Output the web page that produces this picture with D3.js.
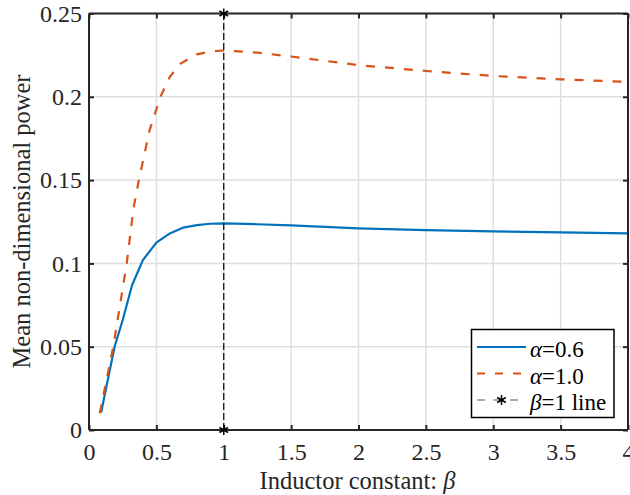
<!DOCTYPE html>
<html><head><meta charset="utf-8">
<script src="https://cdn.jsdelivr.net/npm/d3@7"></script>
<style>body{margin:0;background:#fff;}</style>
</head><body><svg id="c" width="630" height="495" style="font-family:'Liberation Serif','DejaVu Serif',serif"></svg>
<script>
const betaA = [0.09,0.19,0.25,0.32,0.40,0.5,0.6,0.7,0.8,0.9,1.0,1.25,1.5,2,2.5,3,3.5,4];
const powerA06 = [0.0105,0.050,0.066,0.087,0.102,0.1125,0.118,0.1215,0.123,0.1238,0.124,0.1235,0.1228,0.121,0.120,0.1192,0.1186,0.118];
const betaB = [0.08,0.18,0.28,0.33,0.37,0.45,0.53,0.6,0.68,0.8,0.9,1.0,1.25,1.5,2,2.5,3,3.5,4];
const powerA10 = [0.010,0.050,0.100,0.133,0.150,0.180,0.200,0.212,0.220,0.2255,0.2272,0.2278,0.2265,0.2242,0.219,0.2155,0.2125,0.2105,0.2089];
const vlineBeta = [1,1];
const vlinePower = [0,0.25];
const xTicks = [0,0.5,1,1.5,2,2.5,3,3.5,4];
const yTicks = [0,0.05,0.1,0.15,0.2,0.25];
const legendLabels = ["α=0.6","α=1.0","β=1 line"];

const FONT="'Liberation Serif','DejaVu Serif',serif";
const svg = d3.select("#c");
const L=89,R=628,T=13.5,B=430;
const x=d3.scaleLinear().domain([0,4]).range([L,R]);
const y=d3.scaleLinear().domain([0,0.25]).range([B,T]);
const grid="#dfdfdf", ax="#262626";

// grid
svg.append("g").selectAll("line").data(xTicks).join("line")
 .attr("x1",d=>x(d)).attr("x2",d=>x(d)).attr("y1",T).attr("y2",B).attr("stroke",grid).attr("stroke-width",1.5);
svg.append("g").selectAll("line").data(yTicks).join("line")
 .attr("y1",d=>y(d)).attr("y2",d=>y(d)).attr("x1",L).attr("x2",R).attr("stroke",grid).attr("stroke-width",1.5);

const line=d3.line().x(d=>x(d[0])).y(d=>y(d[1])).curve(d3.curveLinear);
const plot = svg.append("g");
plot.append("path").datum(betaA.map((b,i)=>[b,powerA06[i]])).attr("d",line)
 .attr("fill","none").attr("stroke","#0072BD").attr("stroke-width",2.2).attr("stroke-linejoin","round");
plot.append("path").datum(betaB.map((b,i)=>[b,powerA10[i]])).attr("d",line)
 .attr("fill","none").attr("stroke","#D95319").attr("stroke-width",2.2).attr("stroke-dasharray","9,10");
plot.append("path").datum(vlineBeta.map((b,i)=>[b,vlinePower[i]])).attr("d",line)
 .attr("fill","none").attr("stroke","#000").attr("stroke-width",1.2).attr("stroke-dasharray","7,3");

// axes
const xb=d3.axisBottom(x).tickValues(xTicks).tickSize(-5).tickPadding(13).tickFormat(d3.format("~g"));
const xt=d3.axisTop(x).tickValues(xTicks).tickSize(-5).tickFormat("");
const yl=d3.axisLeft(y).tickValues(yTicks).tickSize(-5).tickPadding(7).tickFormat(d3.format("~g"));
const yr=d3.axisRight(y).tickValues(yTicks).tickSize(-5).tickFormat("");
function style(g){g.attr("font-family",FONT).attr("font-size",24);
 g.selectAll("path").attr("stroke",ax).attr("stroke-width",2);
 g.selectAll(".tick line").attr("stroke",ax).attr("stroke-width",2);
 g.selectAll("text").attr("fill",ax);}
svg.append("g").attr("transform",`translate(0,${B})`).call(xb).call(style).call(g=>g.select(".domain").attr("d",`M${L},0H${R}`));
svg.append("g").attr("transform",`translate(0,${T})`).call(xt).call(style).call(g=>g.select(".domain").attr("d",`M${L},0H${R}`));
svg.append("g").attr("transform",`translate(${L},0)`).call(yl).call(style).call(g=>g.select(".domain").attr("d",`M0,${T}V${B}`));
svg.append("g").attr("transform",`translate(${R},0)`).call(yr).call(style).call(g=>g.select(".domain").attr("d",`M0,${T}V${B}`));

// asterisk markers
const star=d3.symbol().type(d3.symbolAsterisk).size(70);
svg.append("g").selectAll("path").data(vlineBeta.map((b,i)=>[b,vlinePower[i]])).join("path")
 .attr("transform",d=>`translate(${x(d[0])},${y(d[1])})`).attr("d",star).attr("fill","none").attr("stroke","#000").attr("stroke-width",1.5);

// axis titles
const xtitle=svg.append("text").attr("x",(L+R)/2-1).attr("y",489).attr("text-anchor","middle")
 .attr("font-family",FONT).attr("font-size",24.5).attr("fill",ax);
xtitle.append("tspan").text("Inductor constant: ");
xtitle.append("tspan").attr("font-style","italic").text("β");
svg.append("text").attr("transform",`translate(30,221.5) rotate(-90)`).attr("text-anchor","middle")
 .attr("font-family",FONT).attr("font-size",24.5).attr("fill",ax)
 .text("Mean non-dimensional power");

// legend
const lg=svg.append("g");
lg.append("rect").attr("x",471.5).attr("y",329.5).attr("width",142.5).attr("height",88).attr("fill","#fff").attr("stroke","#000").attr("stroke-width",1.5);
const rowsY=[349,375.5,402];
const sx1=477,sx2=526;
lg.append("line").attr("x1",sx1).attr("x2",sx2).attr("y1",rowsY[0]-2).attr("y2",rowsY[0]-2).attr("stroke","#0072BD").attr("stroke-width",2.2);
lg.append("line").attr("x1",sx1).attr("x2",sx2).attr("y1",rowsY[1]-2).attr("y2",rowsY[1]-2).attr("stroke","#D95319").attr("stroke-width",2.2).attr("stroke-dasharray","8,10");
lg.append("line").attr("x1",sx1).attr("x2",sx2).attr("y1",rowsY[2]-2).attr("y2",rowsY[2]-2).attr("stroke","#555").attr("stroke-width",1.2).attr("stroke-dasharray","8,8.5");
lg.append("path").attr("transform",`translate(${(sx1+sx2)/2},${rowsY[2]-2})`).attr("d",star).attr("fill","none").attr("stroke","#000").attr("stroke-width",1.5);
legendLabels.forEach((t,i)=>{
  const tx=lg.append("text").attr("x",530).attr("y",rowsY[i]+8).attr("font-family",FONT).attr("font-size",23).attr("fill","#000");
  tx.append("tspan").attr("font-style","italic").text(t.slice(0,1));
  tx.append("tspan").text(t.slice(1));
});
</script></body></html>
